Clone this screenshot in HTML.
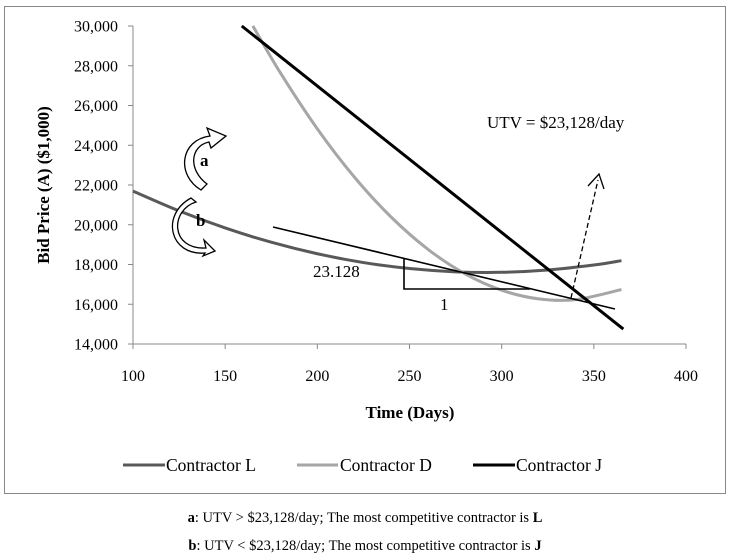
<!DOCTYPE html>
<html><head><meta charset="utf-8"><style>
body{margin:0;background:#fff;width:730px;height:556px;overflow:hidden;font-family:"Liberation Serif",serif}
</style></head><body>
<svg id="chart" width="730" height="556" style="position:absolute;left:0;top:0" font-family="Liberation Serif, serif">
<rect x="4.5" y="6.5" width="721" height="487" fill="#fff" stroke="#888"/>
<g id="axes"></g>
<g id="series"></g>
<g>
 <text x="487" y="128" font-size="17">UTV = $23,128/day</text>
 <text x="313" y="277" font-size="17">23.128</text>
 <text x="440" y="310" font-size="17">1</text>
 <line x1="273" y1="227" x2="615" y2="309" stroke="#000" stroke-width="1.6"/>
 <polyline points="404,259 404,289 530,289" fill="none" stroke="#000" stroke-width="1.6"/>
 <line x1="571" y1="298" x2="598" y2="180" stroke="#000" stroke-width="1.3" stroke-dasharray="5,3"/>
 <polyline points="588,186 599,174 604,189" fill="none" stroke="#000" stroke-width="1.3"/>
 <path d="M201,190 C176,175 180,140 210,136 L207,128 L226,136 L211,148 L209,142 C190,146 188,170 207,184 Z" fill="#fff" stroke="#000" stroke-width="1.3"/>
 <text x="200" y="166" font-size="17" font-weight="bold">a</text>
 <path d="M196,202 C170,210 170,250 206,248 L204,240 L215,251 L203,256 L205,253 C170,256 160,215 191,198 Z" fill="#fff" stroke="#000" stroke-width="1.3"/>
 <text x="196" y="226" font-size="17" font-weight="bold">b</text>
</g>
<text x="410" y="418" font-size="17" font-weight="bold" text-anchor="middle">Time (Days)</text>
<text transform="translate(49,185) rotate(-90)" font-size="17" font-weight="bold" text-anchor="middle">Bid Price (A) ($1,000)</text>
<g font-size="17.5">
 <line x1="123" y1="465" x2="165" y2="465" stroke="#595959" stroke-width="3"/>
 <text x="166" y="471">Contractor L</text>
 <line x1="297" y1="465" x2="338" y2="465" stroke="#a6a6a6" stroke-width="3"/>
 <text x="340" y="471">Contractor D</text>
 <line x1="473" y1="465" x2="515" y2="465" stroke="#000" stroke-width="3"/>
 <text x="516" y="471">Contractor J</text>
</g>
<text x="365" y="522" font-size="14.5" text-anchor="middle"><tspan font-weight="bold">a</tspan>: UTV &gt; $23,128/day; The most competitive contractor is <tspan font-weight="bold">L</tspan></text>
<text x="365" y="550" font-size="14.5" text-anchor="middle"><tspan font-weight="bold">b</tspan>: UTV &lt; $23,128/day; The most competitive contractor is <tspan font-weight="bold">J</tspan></text>
</svg>
<script>
const xTicks=[100,150,200,250,300,350,400];
const yTicks=[14000,16000,18000,20000,22000,24000,26000,28000,30000];
const lDays=[100,125,150,175,200,225,250,275,300,325,350,365];
const lVals=[21692,20696,19838,19120,18540,18098,17796,17632,17607,17721,17973,18192];
const dDays=[165,180,200,220,240,260,280,300,320,340,365];
const dVals=[30006,27637,24825,22409,20390,18766,17538,16707,16271,16232,16739];
const jDays=[159,366];
const jVals=[30000,14750];
const NS='http://www.w3.org/2000/svg';
const X0=133,X1=686,Y0=344,Y1=26;
function xs(d){return X0+(d-100)/300*(X1-X0);}
function ys(v){return Y0-(v-14000)/16000*(Y0-Y1);}
function mk(t,a,p){const e=document.createElementNS(NS,t);for(const k in a)e.setAttribute(k,a[k]);p.appendChild(e);return e;}
const ax=document.getElementById('axes');
let yl=mk('line',{x1:X0,y1:Y1,x2:X0,y2:Y0+5,stroke:'#888'},ax);


let xl=mk('line',{x1:X0-5,y1:Y0,x2:X1,y2:Y0,stroke:'#888'},ax);


yTicks.forEach(v=>{const y=ys(v);
 mk('line',{x1:X0-5,y1:y,x2:X0,y2:y,stroke:'#888'},ax);
 const t=mk('text',{x:118,y:y+5.5,'font-size':16,'text-anchor':'end'},ax);t.textContent=v.toLocaleString('en-US');
 
 });
xTicks.forEach(d=>{const x=xs(d);
 mk('line',{x1:x,y1:Y0,x2:x,y2:Y0+5,stroke:'#888'},ax);
 const t=mk('text',{x:x,y:381,'font-size':16,'text-anchor':'middle'},ax);t.textContent=d;
 
 });
const sg=document.getElementById('series');
function smooth(days,vals){const p=days.map((d,i)=>[xs(d),ys(vals[i])]);
 let s='M'+p[0][0]+','+p[0][1];
 for(let i=0;i<p.length-1;i++){const a=p[i-1]||p[i],b=p[i],c=p[i+1],e=p[i+2]||c;
  s+=' C'+(b[0]+(c[0]-a[0])/6)+','+(b[1]+(c[1]-a[1])/6)+' '+(c[0]-(e[0]-b[0])/6)+','+(c[1]-(e[1]-b[1])/6)+' '+c[0]+','+c[1];}
 return s;}
let pl=mk('path',{d:smooth(lDays,lVals),fill:'none',stroke:'#595959','stroke-width':3},sg);


let pd=mk('path',{d:smooth(dDays,dVals),fill:'none',stroke:'#a6a6a6','stroke-width':3},sg);


let pj=mk('path',{d:smooth(jDays,jVals),fill:'none',stroke:'#000','stroke-width':3},sg);


</script>
</body></html>
